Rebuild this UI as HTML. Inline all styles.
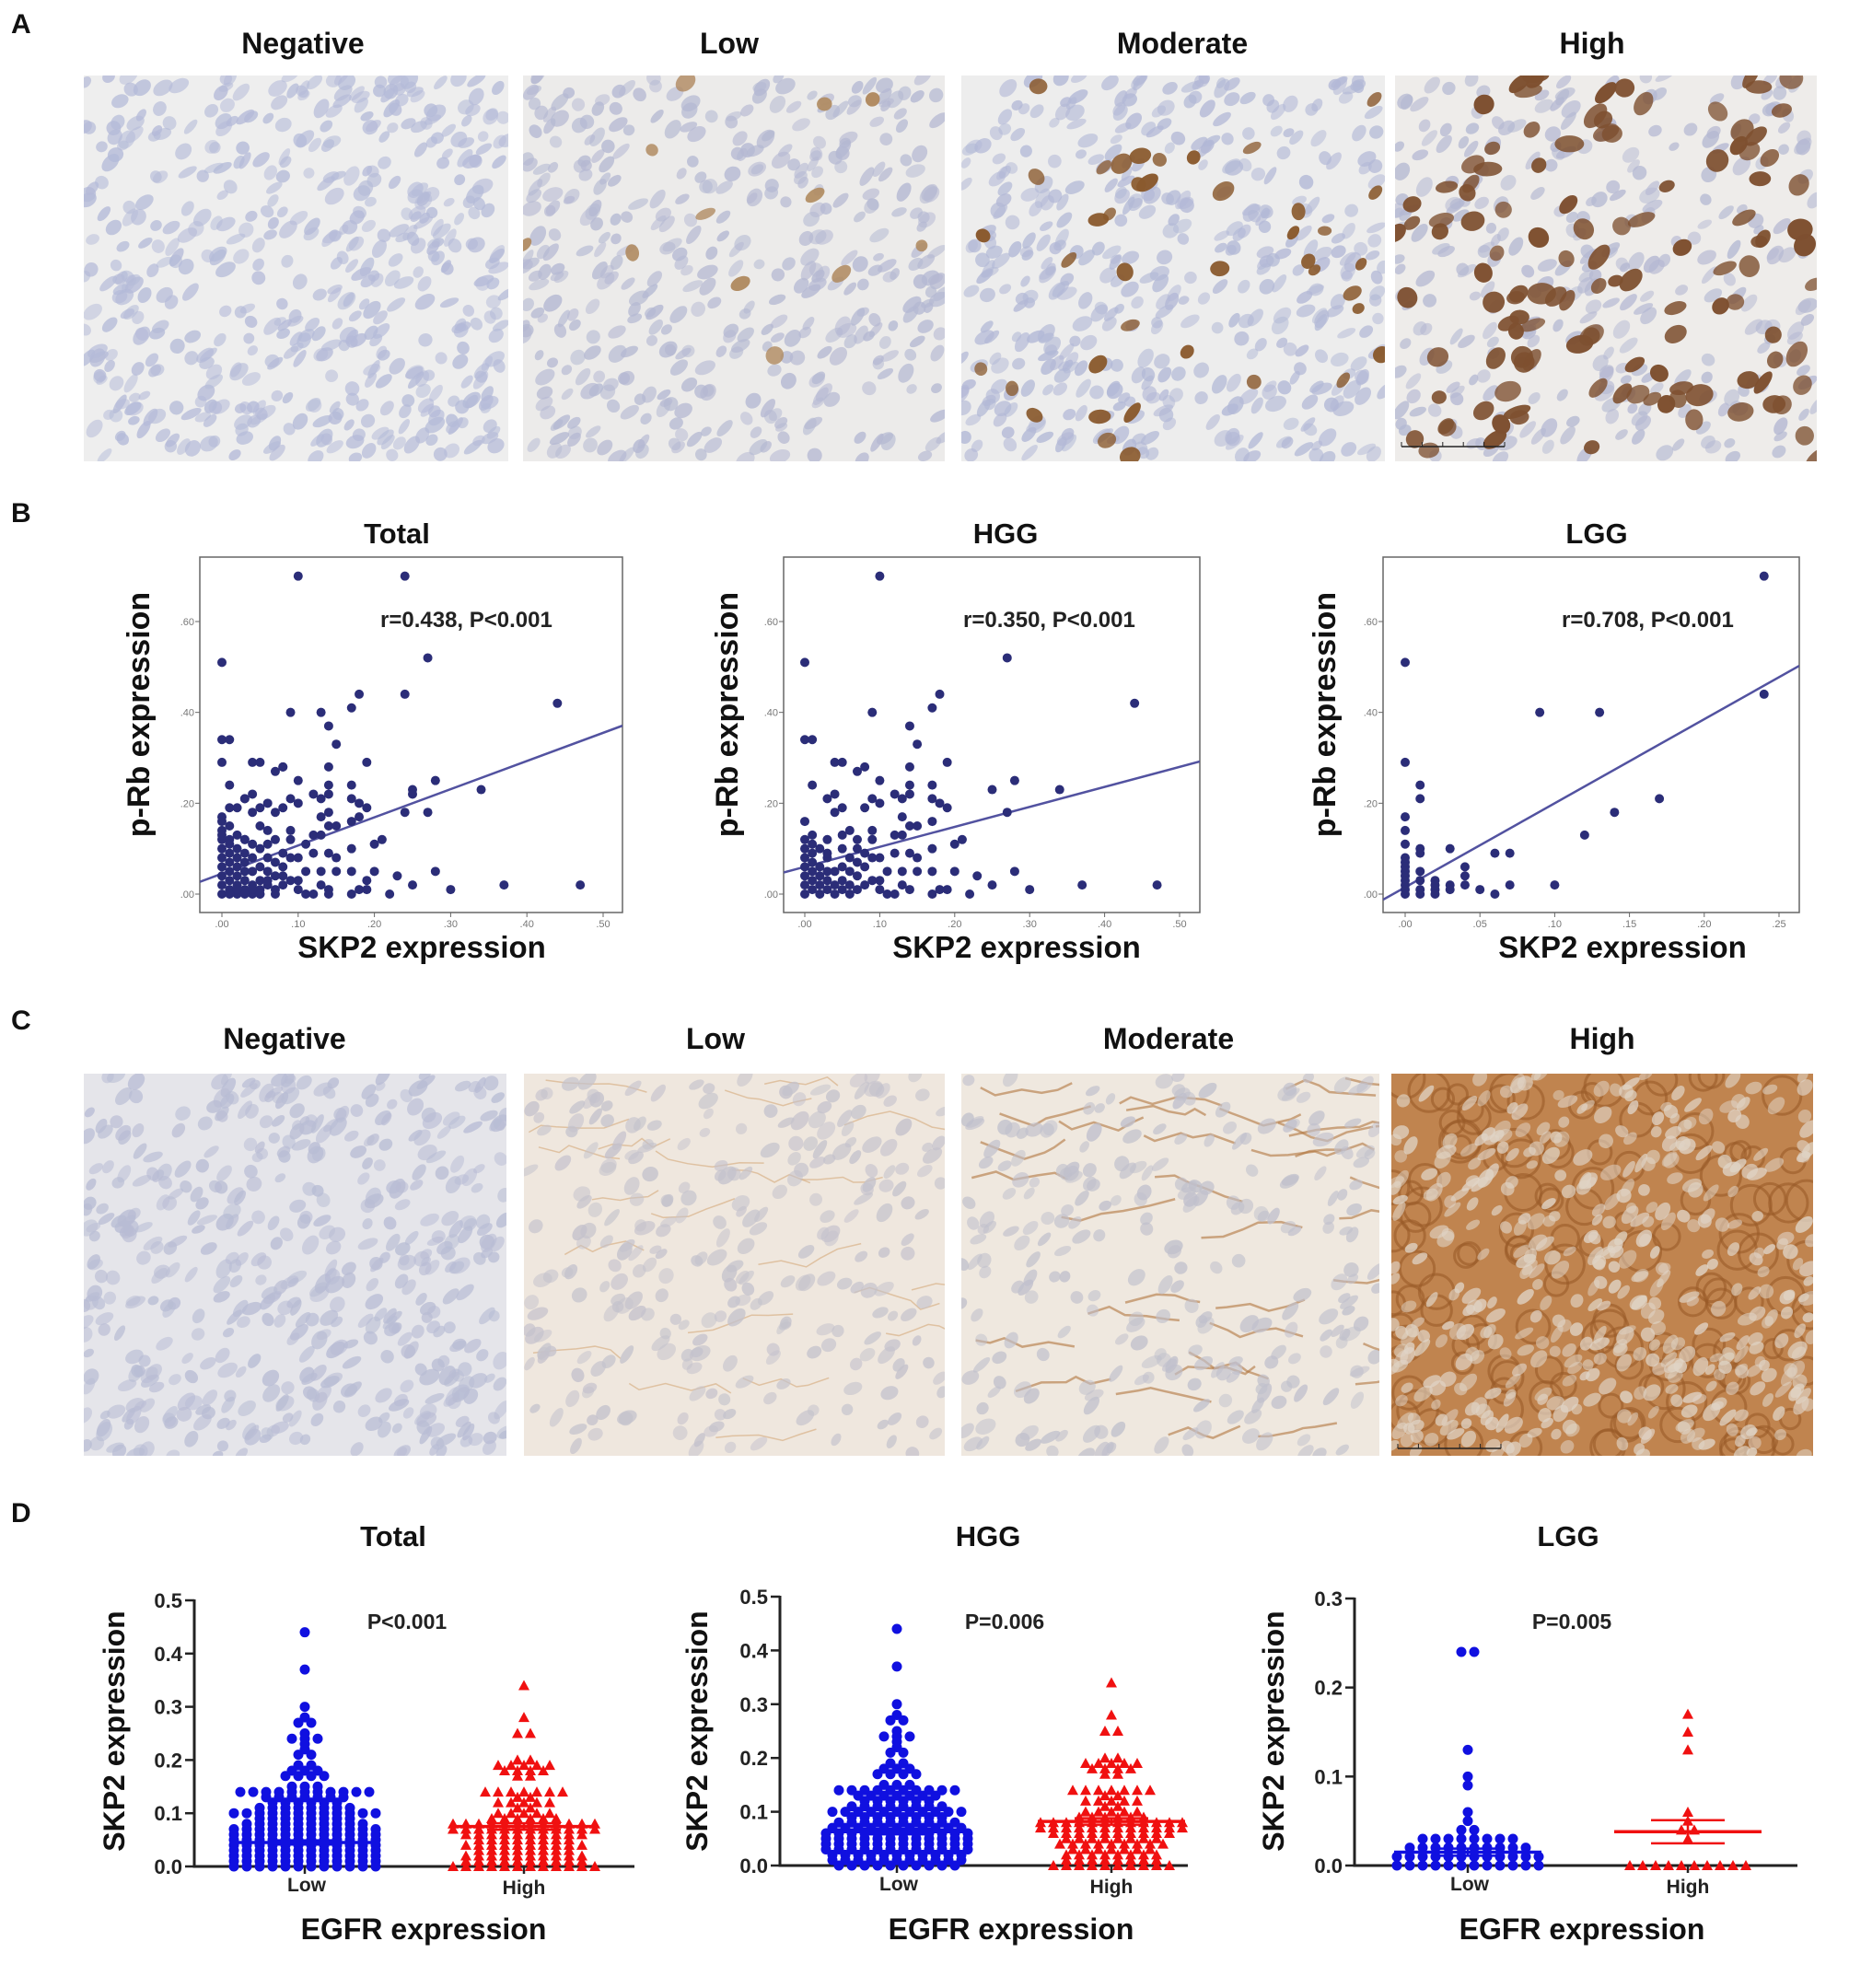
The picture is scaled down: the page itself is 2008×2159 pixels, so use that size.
<!DOCTYPE html>
<html><head><meta charset="utf-8">
<style>
html,body{margin:0;padding:0;background:#fff;}
body{width:2008px;height:2154px;position:relative;overflow:hidden;font-family:"Liberation Sans",Arial,sans-serif;}
svg text{font-family:"Liberation Sans",Arial,sans-serif;}
</style></head>
<body>
<svg id="fig" width="2008" height="2154" viewBox="0 0 2008 2154" xmlns="http://www.w3.org/2000/svg">
<g id="histA"></g>
<g id="histC"></g>
<g id="charts"></g>
<g font-weight="bold" font-size="30" fill="#111">
<text x="12" y="36">A</text>
<text x="12" y="567">B</text>
<text x="12" y="1118">C</text>
<text x="12" y="1653">D</text>
</g>
<g font-weight="bold" font-size="32" fill="#111" text-anchor="middle">
<text x="329" y="58">Negative</text>
<text x="792" y="58">Low</text>
<text x="1284" y="58">Moderate</text>
<text x="1729" y="58">High</text>
</g>
<g font-weight="bold" font-size="32" fill="#111" text-anchor="middle">
<text x="309" y="1139">Negative</text>
<text x="777" y="1139">Low</text>
<text x="1269" y="1139">Moderate</text>
<text x="1740" y="1139">High</text>
</g>
</svg>
<script>
// ---------- Panel B scatter data ----------
const totalX=[0.10,0.24,0.00,0.27,0.18,0.24,0.44,0.09,0.13,0.17,0.14,0.15,0.00,0.01,0.00,0.04,0.05,0.07,0.08,0.19,0.14,0.01,0.10,0.14,0.17,0.25,0.25,0.28,0.34,0.03,0.04,0.09,0.10,0.12,0.13,0.14,0.17,0.18,0.19,0.24,0.27,0.20,0.21,0.17,0.14,0.15,0.10,0.12,0.11,0.13,0.15,0.17,0.20,0.23,0.28,0.25,0.37,0.47,0.30,0.22,0.17,0.18,0.19,0.19,0.14,0.14,0.13,0.12,0.11,0.10,0.10,0.13,0.12,0.11,0.09,0.14,0.14,0.13,0.15,0.17,0.18,
0.00,0.00,0.00,0.00,0.00,0.00,0.00,0.00,0.00,0.00,0.01,0.01,0.01,0.01,0.01,0.01,0.01,0.01,0.02,0.02,0.02,0.02,0.02,0.02,0.02,0.03,0.03,0.03,0.03,0.03,0.03,0.03,0.04,0.04,0.04,0.04,0.04,0.04,0.05,0.05,0.05,0.05,0.05,0.05,0.05,0.06,0.06,0.06,0.06,0.06,0.06,0.07,0.07,0.07,0.07,0.07,0.08,0.08,0.08,0.08,0.08,0.09,0.09,0.09,0.01,0.02,0.03,0.04,0.05,0.06,0.07,0.08,0.00,0.01,0.02,0.03];
const totalY=[0.70,0.70,0.51,0.52,0.44,0.44,0.42,0.40,0.40,0.41,0.37,0.33,0.34,0.34,0.29,0.29,0.29,0.27,0.28,0.29,0.28,0.24,0.25,0.24,0.24,0.23,0.22,0.25,0.23,0.21,0.22,0.21,0.20,0.22,0.21,0.22,0.21,0.20,0.19,0.18,0.18,0.11,0.12,0.10,0.09,0.08,0.08,0.09,0.05,0.05,0.05,0.05,0.05,0.04,0.05,0.02,0.02,0.02,0.01,0.00,0.00,0.01,0.01,0.03,0.01,0.00,0.02,0.00,0.00,0.01,0.03,0.13,0.13,0.11,0.14,0.15,0.18,0.17,0.15,0.16,0.17,
0.00,0.02,0.04,0.06,0.08,0.10,0.12,0.14,0.16,0.17,0.01,0.03,0.05,0.07,0.09,0.12,0.15,0.19,0.00,0.02,0.04,0.06,0.08,0.10,0.19,0.01,0.03,0.05,0.07,0.09,0.12,0.21,0.00,0.02,0.05,0.08,0.11,0.18,0.01,0.03,0.06,0.10,0.15,0.19,0.00,0.02,0.05,0.08,0.11,0.14,0.20,0.01,0.04,0.07,0.12,0.18,0.02,0.06,0.09,0.19,0.28,0.03,0.08,0.12,0.00,0.01,0.00,0.01,0.00,0.03,0.00,0.04,0.13,0.11,0.13,0.12];
const hggX=[0.10,0.27,0.00,0.18,0.44,0.09,0.17,0.14,0.15,0.00,0.01,0.04,0.05,0.07,0.08,0.19,0.14,0.01,0.10,0.14,0.17,0.25,0.28,0.34,0.03,0.04,0.09,0.10,0.12,0.13,0.14,0.17,0.18,0.19,0.27,0.20,0.21,0.17,0.14,0.15,0.10,0.12,0.11,0.13,0.15,0.17,0.20,0.23,0.28,0.25,0.37,0.47,0.30,0.22,0.17,0.18,0.19,0.14,0.13,0.12,0.11,0.10,0.10,0.13,0.12,0.09,0.14,0.13,0.15,0.17,
0.00,0.00,0.00,0.00,0.00,0.00,0.00,0.00,0.01,0.01,0.01,0.01,0.01,0.01,0.02,0.02,0.02,0.02,0.02,0.03,0.03,0.03,0.03,0.03,0.04,0.04,0.04,0.04,0.05,0.05,0.05,0.05,0.05,0.06,0.06,0.06,0.06,0.06,0.07,0.07,0.07,0.07,0.08,0.08,0.08,0.08,0.09,0.09,0.09,0.01,0.03,0.05,0.07];
const hggY=[0.70,0.52,0.51,0.44,0.42,0.40,0.41,0.37,0.33,0.34,0.34,0.29,0.29,0.27,0.28,0.29,0.28,0.24,0.25,0.24,0.24,0.23,0.25,0.23,0.21,0.22,0.21,0.20,0.22,0.21,0.22,0.21,0.20,0.19,0.18,0.11,0.12,0.10,0.09,0.08,0.08,0.09,0.05,0.05,0.05,0.05,0.05,0.04,0.05,0.02,0.02,0.02,0.01,0.00,0.00,0.01,0.01,0.01,0.02,0.00,0.00,0.01,0.03,0.13,0.13,0.14,0.15,0.17,0.15,0.16,
0.00,0.02,0.04,0.06,0.08,0.10,0.12,0.16,0.01,0.03,0.05,0.07,0.09,0.13,0.00,0.02,0.04,0.06,0.10,0.01,0.03,0.05,0.08,0.12,0.00,0.02,0.05,0.18,0.01,0.03,0.06,0.10,0.19,0.00,0.02,0.05,0.08,0.14,0.01,0.04,0.07,0.12,0.02,0.06,0.09,0.19,0.03,0.08,0.12,0.11,0.09,0.13,0.10];
const lggX=[0.00,0.00,0.01,0.01,0.00,0.00,0.00,0.01,0.01,0.00,0.00,0.00,0.00,0.00,0.00,0.00,0.00,0.00,0.01,0.01,0.01,0.02,0.02,0.03,0.03,0.04,0.04,0.04,0.03,0.05,0.06,0.06,0.07,0.07,0.09,0.10,0.12,0.13,0.14,0.17,0.24,0.24,0.01,0.02,0.02];
const lggY=[0.51,0.29,0.24,0.21,0.17,0.14,0.11,0.10,0.09,0.08,0.07,0.06,0.05,0.04,0.03,0.02,0.01,0.00,0.05,0.03,0.01,0.03,0.01,0.02,0.01,0.06,0.04,0.02,0.10,0.01,0.09,0.00,0.09,0.02,0.40,0.02,0.13,0.40,0.18,0.21,0.70,0.44,0.00,0.02,0.00];
const fitIntercept=[0.045,0.06,0.015];
const fitSlope=[0.62,0.44,1.85];
const scatterTicksX1=[".00",".10",".20",".30",".40",".50"];
const scatterTicksX3=[".00",".05",".10",".15",".20",".25"];
const scatterTicksY=[".00",".20",".40",".60"];
const scatterNotes=["r=0.438, P<0.001","r=0.350, P<0.001","r=0.708, P<0.001"];

// ---------- Panel D column scatter data ----------
const totLowVals=[0.44,0.37,0.30,0.28,0.27,0.25,0.24,0.23,0.22,0.21,0.19,0.18,0.17,0.15,0.14,0.13,0.12,0.11,0.10,0.09,0.08,0.07,0.06,0.05,0.04,0.03,0.02,0.01,0.00];
const totLowCounts=[1,1,1,1,2,1,3,1,1,2,2,3,4,3,11,7,6,8,12,8,10,12,12,12,12,12,12,12,12];
const totHighVals=[0.34,0.28,0.25,0.20,0.19,0.18,0.17,0.14,0.13,0.12,0.11,0.10,0.09,0.08,0.07,0.06,0.05,0.04,0.03,0.02,0.01,0.00];
const totHighCounts=[1,1,2,2,5,4,2,7,2,5,2,5,6,12,12,10,8,10,8,10,10,12];
const hggLowVals=[0.44,0.37,0.30,0.28,0.27,0.25,0.24,0.23,0.22,0.21,0.19,0.18,0.17,0.15,0.14,0.13,0.12,0.11,0.10,0.09,0.08,0.07,0.06,0.05,0.04,0.03,0.02,0.01,0.00];
const hggLowCounts=[1,1,1,1,2,1,3,1,1,2,2,3,4,3,10,7,6,8,11,8,10,11,12,12,12,12,11,11,10];
const hggHighVals=[0.34,0.28,0.25,0.20,0.19,0.18,0.17,0.14,0.13,0.12,0.11,0.10,0.09,0.08,0.07,0.06,0.05,0.04,0.03,0.02,0.01,0.00];
const hggHighCounts=[1,1,2,2,5,4,2,7,2,5,2,5,6,12,12,10,8,9,7,8,8,10];
const lggLowVals=[0.24,0.13,0.10,0.09,0.06,0.05,0.04,0.03,0.02,0.01,0.00];
const lggLowCounts=[2,1,1,1,1,1,2,8,10,12,12];
const lggHighVals=[0.17,0.15,0.13,0.06,0.05,0.04,0.03,0.00];
const lggHighCounts=[1,1,1,1,1,2,1,10];
const dotMeans=[[0.045,0.075],[0.063,0.082],[0.015,0.038]];
const dotSems=[[0.004,0.006],[0.005,0.006],[0.004,0.013]];
const dotPvals=["P<0.001","P=0.006","P=0.005"];
const dotTicks5=["0.0","0.1","0.2","0.3","0.4","0.5"];
const dotTicks3=["0.0","0.1","0.2","0.3"];
const groupNames=["Low","High"];

const NS="http://www.w3.org/2000/svg";
function mk(tag,attrs,parent){const e=document.createElementNS(NS,tag);for(const k in attrs)e.setAttribute(k,attrs[k]);parent.appendChild(e);return e;}
function txt(s,attrs,parent){const e=mk('text',attrs,parent);e.textContent=s;return e;}
const charts=document.getElementById('charts');

// ---------- Histology textures (deterministic) ----------
let seed=12345;function rnd(){seed=(seed*1103515245+12345)%2147483648;return seed/2147483648;}
function histo(parent,x,y,w,h,bg,blueCol,nBlue,brownCol,nBrown,name,extra,bsz){
  bsz=bsz||1;
  const g=mk('g',{},parent);
  
  
  const cid='c'+name;
  const cp=mk('clipPath',{id:cid},g);mk('rect',{x:x,y:y,width:w,height:h},cp);
  const inner=mk('g',{'clip-path':'url(#'+cid+')'},g);
  mk('rect',{x:x,y:y,width:w,height:h,fill:bg},inner);
  if(extra)extra(inner,x,y,w,h);
  for(let i=0;i<nBlue;i++){const cx=x+rnd()*w,cy=y+rnd()*h;mk('ellipse',{cx:cx,cy:cy,rx:6+rnd()*6,ry:4+rnd()*4,transform:'rotate('+(-60+rnd()*40)+' '+cx+' '+cy+')',fill:blueCol,opacity:0.5+rnd()*0.3},inner);}
  for(let i=0;i<nBrown;i++){const cx=x+rnd()*w,cy=y+rnd()*h;mk('ellipse',{cx:cx,cy:cy,rx:(8+rnd()*8)*bsz,ry:(6+rnd()*6)*bsz,transform:'rotate('+(-60+rnd()*60)+' '+cx+' '+cy+')',fill:brownCol,opacity:0.75+rnd()*0.25},inner);}
}
const hA=document.getElementById('histA'),hC=document.getElementById('histC');
histo(hA,91,82,461,419,'#eeeeee','#b4bad8',520,'#8a5a30',0,'a-negative-image');
histo(hA,568,82,458,419,'#ecebea','#b4b8d2',420,'#b08a60',12,'a-low-image',null,0.8);
histo(hA,1044,82,460,419,'#ededed','#b2b8d6',440,'#8a5a2e',40,'a-moderate-image',null,0.85);
histo(hA,1515,82,458,419,'#eeecea','#b4b8d2',300,'#7e5030',120,'a-high-image');
function streaks(col,n,wid,op){return function(g,x,y,w,h){for(let i=0;i<n;i++){const x0=x+rnd()*w,y0=y+rnd()*h;let d='M'+x0+' '+y0;let cx=x0,cy=y0;for(let k=0;k<5;k++){cx+=10+rnd()*20;cy+=-10+rnd()*20;d+=' L'+cx+' '+cy;}mk('path',{d:d,stroke:col,'stroke-width':wid,fill:'none',opacity:op},g);}};}
histo(hC,91,1166,459,415,'#e5e5ea','#b8bcd4',500,'#000',0,'c-negative-image');
histo(hC,569,1166,457,415,'#efe7de','#c4c2cc',280,'#000',0,'c-low-image',streaks('#d4a878',22,1.5,0.6));
histo(hC,1044,1166,454,415,'#efe8df','#c0c0cc',260,'#000',0,'c-moderate-image',streaks('#b0753e',35,2.5,0.6));
histo(hC,1511,1166,458,415,'#c0844f','#e0d4c6',460,'#000',0,'c-high-image',function(g,x,y,w,h){for(let i=0;i<140;i++){mk('circle',{cx:x+rnd()*w,cy:y+rnd()*h,r:10+rnd()*12,fill:'none',stroke:'#9a5a28','stroke-width':3,opacity:0.6},g);}});
// scale bars
[[1522,485],[1518,1573]].forEach((p,i)=>{const b=mk('g',{},i?hC:hA);mk('line',{x1:p[0],y1:p[1],x2:p[0]+112,y2:p[1],stroke:'#222','stroke-width':1.5},b);for(let k=0;k<=5;k++)mk('line',{x1:p[0]+k*22.4,y1:p[1],x2:p[0]+k*22.4,y2:p[1]-5,stroke:'#222','stroke-width':1},b);});

// ---------- Scatter plots ----------
function scatter(cfg){
  const g=mk('g',{},charts);
  
  
  const sx=v=>cfg.x0+(v-0)/cfg.xmax*(cfg.x1-cfg.x0);
  const sy=v=>cfg.y0-(v/0.6)*(cfg.y0-cfg.y1);
  const frame=mk('rect',{x:cfg.bx,y:605,width:cfg.bw,height:386,fill:'#fff',stroke:'#666','stroke-width':1.5},g);
  
  
  cfg.tx.forEach((t,i)=>{const v=cfg.xmax*i/(cfg.tx.length-1);const px=sx(v);
    mk('line',{x1:px,y1:991,x2:px,y2:996,stroke:'#666'},g);
    const e=txt(t,{x:px,y:1007,'font-size':11,fill:'#777','text-anchor':'middle'},g);
    
    });
  scatterTicksY.forEach((t,i)=>{const py=sy(i*0.2);
    mk('line',{x1:cfg.bx-5,y1:py,x2:cfg.bx,y2:py,stroke:'#666'},g);
    const e=txt(t,{x:cfg.bx-6,y:py+4,'font-size':11,fill:'#777','text-anchor':'end'},g);
    
    });
  const cp=mk('clipPath',{id:'cl'+cfg.name},g);mk('rect',{x:cfg.bx,y:605,width:cfg.bw,height:386},cp);
  const xl=(cfg.bx-cfg.x0)/(cfg.x1-cfg.x0)*cfg.xmax, xr=(cfg.bx+cfg.bw-cfg.x0)/(cfg.x1-cfg.x0)*cfg.xmax;
  const ln=mk('line',{x1:sx(xl),y1:sy(cfg.b+cfg.m*xl),x2:sx(xr),y2:sy(cfg.b+cfg.m*xr),stroke:'#5252a0','stroke-width':2.5,'clip-path':'url(#cl'+cfg.name+')'},g);
  
  
  cfg.xs.forEach((v,i)=>{const c=mk('circle',{cx:sx(v),cy:sy(cfg.ys[i]),r:5,fill:'#2b2d78'},g);
    
    });
  const t=txt(cfg.title,{x:cfg.tcx,y:590,'font-size':31,'font-weight':'bold','text-anchor':'middle',fill:'#111'},g);
  
  
  const n=txt(cfg.note,{x:cfg.nx,y:681,'font-size':24,'font-weight':'bold',fill:'#222'},g);
  
  
  const yl=txt('p-Rb expression',{x:cfg.ylx,y:776,'font-size':34,'font-weight':'bold','text-anchor':'middle',fill:'#111',transform:'rotate(-90 '+cfg.ylx+' 776)'},g);
  
  
  const xt=txt('SKP2 expression',{x:cfg.xlx,y:1040,'font-size':33,'font-weight':'bold','text-anchor':'middle',fill:'#111'},g);
  
  
}
scatter({name:'scatter-total',bx:217,bw:459,x0:241,x1:655,xmax:0.5,y0:971,y1:675,xs:totalX,ys:totalY,m:fitSlope[0],b:fitIntercept[0],tx:scatterTicksX1,title:'Total',tcx:431,note:scatterNotes[0],nx:413,ylx:162,xlx:458});
scatter({name:'scatter-hgg',bx:851,bw:452,x0:874,x1:1281,xmax:0.5,y0:971,y1:675,xs:hggX,ys:hggY,m:fitSlope[1],b:fitIntercept[1],tx:scatterTicksX1,title:'HGG',tcx:1092,note:scatterNotes[1],nx:1046,ylx:801,xlx:1104});
scatter({name:'scatter-lgg',bx:1502,bw:452,x0:1526,x1:1932,xmax:0.25,y0:971,y1:675,xs:lggX,ys:lggY,m:fitSlope[2],b:fitIntercept[2],tx:scatterTicksX3,title:'LGG',tcx:1734,note:scatterNotes[2],nx:1696,ylx:1450,xlx:1762});

// ---------- Column scatter (panel D) ----------
function dotplot(cfg){
  const g=mk('g',{},charts);
  
  
  const sy=v=>cfg.y0-v/cfg.ymax*(cfg.y0-cfg.y1);
  const ax=mk('path',{d:'M'+cfg.ax+' '+(sy(cfg.ymax)-1)+' L'+cfg.ax+' '+cfg.y0+' L'+cfg.axEnd+' '+cfg.y0,stroke:'#222','stroke-width':3,fill:'none'},g);
  
  
  cfg.ticks.forEach((t,i)=>{const v=i*0.1;const py=sy(v);
    mk('line',{x1:cfg.ax-10,y1:py,x2:cfg.ax,y2:py,stroke:'#222','stroke-width':2.5},g);
    const e=txt(t,{x:cfg.ax-13,y:py+8,'font-size':22,'font-weight':'bold','text-anchor':'end',fill:'#222'},g);
    
    });
  const groups=[[cfg.lowV,cfg.lowC,cfg.cx[0],'#1010e0','c'],[cfg.highV,cfg.highC,cfg.cx[1],'#f01010','t']];
  groups.forEach((gr,gi)=>{
    mk('line',{x1:gr[2],y1:cfg.y0,x2:gr[2],y2:cfg.y0+8,stroke:'#222','stroke-width':2.5},g);
    const lb=txt(groupNames[gi],{x:gr[2]+(gi?0:2),y:cfg.y0+(gi?30:27),'font-size':21,'font-weight':'bold','text-anchor':'middle',fill:'#222'},g);
    
    
    gr[0].forEach((v,vi)=>{const n=gr[1][vi];const py=sy(v);
      for(let k=0;k<n;k++){const px=gr[2]+(k-(n-1)/2)*14;
        let m;
        if(gr[4]==='c'){m=mk('circle',{cx:px,cy:py,r:5.5,fill:gr[3]},g);}
        else{m=mk('polygon',{points:(px-6)+','+(py+5)+' '+(px+6)+','+(py+5)+' '+px+','+(py-6),fill:gr[3]},g);}
        
        }
    });
    const mean=dotMeans[cfg.idx][gi], sem=dotSems[cfg.idx][gi];
    const ml=mk('line',{x1:gr[2]-80,y1:sy(mean),x2:gr[2]+80,y2:sy(mean),stroke:gr[3],'stroke-width':3.5},g);
    
    
    const er=mk('path',{d:'M'+(gr[2]-40)+' '+sy(mean+sem)+' H'+(gr[2]+40)+' M'+gr[2]+' '+sy(mean+sem)+' V'+sy(mean-sem)+' M'+(gr[2]-40)+' '+sy(mean-sem)+' H'+(gr[2]+40),stroke:gr[3],'stroke-width':2.5,fill:'none'},g);
    
    
  });
  const t=txt(cfg.title,{x:cfg.tcx,y:1679,'font-size':31,'font-weight':'bold','text-anchor':'middle',fill:'#111'},g);
  
  
  const p=txt(dotPvals[cfg.idx],{x:cfg.px,y:1769,'font-size':23,'font-weight':'bold','text-anchor':'middle',fill:'#222'},g);
  
  
  const yl=txt('SKP2 expression',{x:cfg.ylx,y:1880,'font-size':32,'font-weight':'bold','text-anchor':'middle',fill:'#111',transform:'rotate(-90 '+cfg.ylx+' 1880)'},g);
  
  
  const xt=txt('EGFR expression',{x:cfg.xlx,y:2106,'font-size':32,'font-weight':'bold','text-anchor':'middle',fill:'#111'},g);
  
  
}
dotplot({name:'dotplot-total',idx:0,ax:211,axEnd:689,y0:2027,y1:1738,ymax:0.5,ticks:dotTicks5,lowV:totLowVals,lowC:totLowCounts,highV:totHighVals,highC:totHighCounts,cx:[331,569],title:'Total',tcx:427,px:442,ylx:135,xlx:460});
dotplot({name:'dotplot-hgg',idx:1,ax:847,axEnd:1290,y0:2026,y1:1734,ymax:0.5,ticks:dotTicks5,lowV:hggLowVals,lowC:hggLowCounts,highV:hggHighVals,highC:hggHighCounts,cx:[974,1207],title:'HGG',tcx:1073,px:1091,ylx:768,xlx:1098});
dotplot({name:'dotplot-lgg',idx:2,ax:1471,axEnd:1952,y0:2026,y1:1736,ymax:0.3,ticks:dotTicks3,lowV:lggLowVals,lowC:lggLowCounts,highV:lggHighVals,highC:lggHighCounts,cx:[1594,1833],title:'LGG',tcx:1703,px:1707,ylx:1394,xlx:1718});
</script>
</body></html>
